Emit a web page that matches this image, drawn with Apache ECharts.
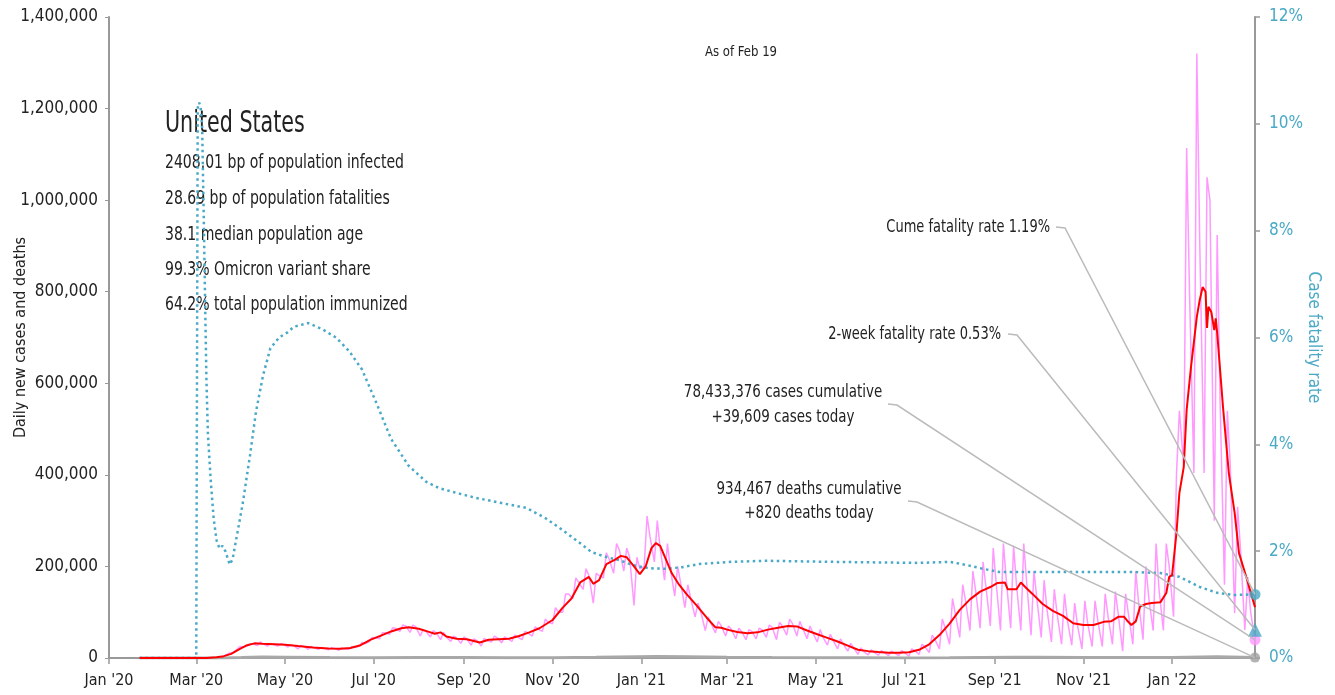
<!DOCTYPE html>
<html>
<head>
<meta charset="utf-8">
<script src="https://cdn.jsdelivr.net/npm/echarts@6/dist/echarts.min.js"></script>
<style>
  html, body { margin: 0; padding: 0; background: #fff; }
  #chart { width: 1335px; height: 695px; }
</style>
</head>
<body>
<div id="chart"></div>
<script>
var FONT = "'Liberation Sans Narrow','DejaVu Sans Condensed','Arial Narrow',sans-serif";
var TEAL = '#4aa9c6', PINK = '#ff99ff', RED = '#ff0000', GRAY = '#a8a8a8', AXIS = '#999999', INK = '#222222';

// ---- data (cases in thousands) ----
var leftTicks = [0, 200000, 400000, 600000, 800000, 1000000, 1200000, 1400000];
var rightTicks = [0, 2, 4, 6, 8, 10, 12];

// daily new cases, one week per entry starting Sun 2020-03-01: Sunday low, Tuesday high, Thursday mid
var pinkSunK = [0, 0.3, 1.5, 8, 19, 26, 27, 26, 26, 24,
  20, 19, 19, 18, 17, 19, 26, 36, 42, 52,
  58, 56, 48, 46, 40, 36, 32, 28, 26, 35,
  33, 36, 40, 48, 58, 75, 100, 130, 150, 120,
  175, 185, 190, 115, 200, 210, 170, 135, 110, 90,
  60, 55, 48, 42, 40, 42, 45, 40, 50, 48,
  42, 35, 28, 20, 15, 8, 7, 6, 5, 5,
  4, 8, 12, 20, 30, 45, 60, 65, 70, 60,
  65, 60, 50, 45, 35, 30, 28, 20, 25, 25,
  30, 15, 30, 40, 60, 60, 90, 420, 404, 404,
  300, 160, 98, 61, 39.609];
var pinkTueK = [0.1, 0.8, 3, 11, 25, 31, 35, 32, 31, 29,
  27, 25, 23, 23, 22, 25, 34, 45, 55, 66,
  72, 72, 62, 60, 56, 48, 46, 42, 43, 48,
  46, 50, 58, 68, 85, 110, 140, 175, 195, 185,
  230, 250, 240, 220, 310, 300, 250, 200, 160, 120,
  90, 80, 70, 65, 62, 65, 72, 78, 85, 80,
  70, 62, 52, 42, 32, 22, 18, 16, 15, 16,
  20, 30, 50, 85, 130, 160, 190, 210, 240, 250,
  245, 250, 190, 170, 150, 140, 120, 125, 125, 140,
  145, 140, 190, 200, 250, 250, 400, 1114, 1320, 1050,
  924, 540, 330, 177];
var pinkThuK = [0, 0.5, 2.5, 11, 24, 31, 31, 30, 30, 27,
  25, 23, 21, 21, 20, 23, 31, 44, 55, 65,
  70, 68, 58, 55, 46, 44, 42, 38, 38, 44,
  43, 46, 55, 63, 78, 100, 140, 165, 180, 180,
  215, 235, 220, 195, 265, 240, 195, 165, 130, 100,
  75, 70, 62, 58, 58, 62, 67, 70, 75, 65,
  55, 45, 38, 30, 22, 14, 13, 12, 11, 12,
  16, 25, 40, 65, 95, 125, 145, 155, 165, 170,
  160, 165, 130, 105, 95, 82, 70, 75, 80, 90,
  95, 95, 120, 130, 150, 200, 540, 793, 908, 1000,
  560, 420, 240, 100];

// 7-day average of new cases
var avgCasesK = [['2020-01-22', 0], ['2020-03-08', 0], ['2020-03-15', 1.5], ['2020-03-20', 4], ['2020-03-25', 9],
  ['2020-03-31', 20], ['2020-04-05', 28], ['2020-04-10', 32], ['2020-04-15', 31], ['2020-04-24', 30],
  ['2020-05-01', 29], ['2020-05-10', 26], ['2020-05-20', 23], ['2020-05-31', 21], ['2020-06-08', 20],
  ['2020-06-15', 22], ['2020-06-22', 28], ['2020-06-29', 40], ['2020-07-06', 49], ['2020-07-13', 58],
  ['2020-07-20', 65], ['2020-07-25', 67], ['2020-08-01', 64], ['2020-08-08', 57], ['2020-08-12', 53],
  ['2020-08-16', 56], ['2020-08-20', 47], ['2020-08-27', 42], ['2020-09-03', 41], ['2020-09-12', 34],
  ['2020-09-18', 40], ['2020-09-25', 41], ['2020-10-02', 42], ['2020-10-09', 48], ['2020-10-16', 56],
  ['2020-10-23', 65], ['2020-11-01', 83], ['2020-11-08', 110], ['2020-11-14', 130], ['2020-11-20', 165],
  ['2020-11-26', 177], ['2020-11-29', 162], ['2020-12-03', 170], ['2020-12-08', 205], ['2020-12-14', 215],
  ['2020-12-18', 223], ['2020-12-22', 220], ['2020-12-27', 200], ['2020-12-31', 183], ['2021-01-04', 200],
  ['2021-01-08', 240], ['2021-01-11', 251], ['2021-01-14', 245], ['2021-01-18', 215], ['2021-01-22', 185],
  ['2021-01-27', 160], ['2021-02-01', 140], ['2021-02-08', 115], ['2021-02-15', 88], ['2021-02-21', 67],
  ['2021-02-25', 66], ['2021-03-01', 62], ['2021-03-08', 57], ['2021-03-15', 54], ['2021-03-22', 56],
  ['2021-03-29', 62], ['2021-04-05', 66], ['2021-04-12', 70], ['2021-04-18', 69], ['2021-04-25', 60],
  ['2021-05-02', 52], ['2021-05-09', 44], ['2021-05-16', 36], ['2021-05-23', 27], ['2021-05-30', 18],
  ['2021-06-06', 15], ['2021-06-13', 13], ['2021-06-20', 11.5], ['2021-06-27', 11.5], ['2021-07-04', 12.5],
  ['2021-07-11', 18], ['2021-07-18', 30], ['2021-07-25', 50], ['2021-08-01', 75], ['2021-08-08', 105],
  ['2021-08-15', 128], ['2021-08-22', 145], ['2021-08-29', 155], ['2021-09-03', 164], ['2021-09-08', 165],
  ['2021-09-10', 150], ['2021-09-16', 150], ['2021-09-19', 165], ['2021-09-22', 155], ['2021-09-27', 140],
  ['2021-10-04', 118], ['2021-10-11', 103], ['2021-10-18', 92], ['2021-10-25', 76], ['2021-11-01', 72],
  ['2021-11-08', 72], ['2021-11-15', 79], ['2021-11-20', 80], ['2021-11-25', 90], ['2021-11-29', 90],
  ['2021-12-01', 82], ['2021-12-04', 72], ['2021-12-07', 80], ['2021-12-10', 112], ['2021-12-14', 118],
  ['2021-12-18', 120], ['2021-12-24', 122], ['2021-12-28', 142], ['2021-12-30', 177], ['2022-01-01', 181],
  ['2022-01-04', 273], ['2022-01-06', 360], ['2022-01-09', 417], ['2022-01-11', 542], ['2022-01-14', 636],
  ['2022-01-18', 745], ['2022-01-20', 782], ['2022-01-22', 810], ['2022-01-24', 800], ['2022-01-25', 721],
  ['2022-01-26', 767], ['2022-01-28', 755], ['2022-01-30', 716], ['2022-01-31', 742], ['2022-02-01', 710],
  ['2022-02-03', 629], ['2022-02-05', 548], ['2022-02-09', 404], ['2022-02-13', 317], ['2022-02-16', 229],
  ['2022-02-21', 177], ['2022-02-25', 133], ['2022-02-27', 111]];

// daily deaths, 7-day average
var deathsK = [['2020-01-22', 0], ['2020-03-01', 0], ['2020-03-20', 0.1], ['2020-04-01', 0.9], ['2020-04-15', 2.2],
  ['2020-05-01', 1.9], ['2020-06-01', 1.0], ['2020-07-01', 0.6], ['2020-08-01', 1.1], ['2020-09-01', 0.9],
  ['2020-10-01', 0.7], ['2020-11-01', 0.8], ['2020-12-01', 1.7], ['2021-01-12', 3.3], ['2021-02-01', 2.9],
  ['2021-03-01', 1.8], ['2021-04-01', 0.9], ['2021-05-01', 0.7], ['2021-06-01', 0.5], ['2021-07-01', 0.25],
  ['2021-08-01', 0.4], ['2021-09-15', 1.9], ['2021-10-01', 1.8], ['2021-11-01', 1.2], ['2021-12-01', 1.0],
  ['2022-01-01', 1.3], ['2022-02-01', 2.5], ['2022-02-27', 0.82]];

// case fatality rate, %
var cfrPct = [['2020-01-22', 0], ['2020-03-01', 0], ['2020-03-02', 10.3], ['2020-03-03', 10.4], ['2020-03-04', 10.3],
  ['2020-03-05', 10.0], ['2020-03-06', 8.5], ['2020-03-07', 6.8], ['2020-03-08', 5.2], ['2020-03-09', 4.2],
  ['2020-03-11', 3.3], ['2020-03-13', 2.6], ['2020-03-15', 2.2], ['2020-03-17', 2.05], ['2020-03-19', 2.1],
  ['2020-03-21', 2.0], ['2020-03-24', 1.75], ['2020-03-26', 1.85], ['2020-03-29', 2.3], ['2020-04-02', 2.9],
  ['2020-04-07', 3.8], ['2020-04-11', 4.6], ['2020-04-16', 5.3], ['2020-04-21', 5.8], ['2020-04-27', 6.0],
  ['2020-05-03', 6.1], ['2020-05-07', 6.2], ['2020-05-17', 6.27], ['2020-05-27', 6.15], ['2020-06-05', 6.0],
  ['2020-06-14', 5.75], ['2020-06-23', 5.4], ['2020-07-02', 4.83], ['2020-07-13', 4.1], ['2020-07-25', 3.6],
  ['2020-08-06', 3.3], ['2020-08-15', 3.18], ['2020-08-27', 3.09], ['2020-09-09', 3.0], ['2020-09-27', 2.9],
  ['2020-10-14', 2.81], ['2020-10-27', 2.62], ['2020-11-05', 2.45], ['2020-11-17', 2.21], ['2020-11-28', 1.98],
  ['2020-12-08', 1.89], ['2020-12-17', 1.83], ['2020-12-26', 1.74], ['2021-01-06', 1.68], ['2021-01-18', 1.67],
  ['2021-01-29', 1.70], ['2021-02-10', 1.76], ['2021-03-04', 1.80], ['2021-03-28', 1.82], ['2021-05-12', 1.80],
  ['2021-07-11', 1.78], ['2021-08-01', 1.80], ['2021-08-13', 1.74], ['2021-08-24', 1.67], ['2021-09-04', 1.61],
  ['2021-10-20', 1.61], ['2021-12-05', 1.61], ['2021-12-24', 1.59], ['2021-12-31', 1.55], ['2022-01-06', 1.52],
  ['2022-01-20', 1.33], ['2022-02-01', 1.22], ['2022-02-12', 1.18], ['2022-02-27', 1.19]];

// latest figures
var cumeCfr = 1.19, twoWeekCfr = 0.53;
var casesCum = 78433376, casesToday = 39609;
var deathsCum = 934467, deathsToday = 820;
var statLines = ['2408.01 bp of population infected', '28.69 bp of population fatalities',
  '38.1 median population age', '99.3% Omicron variant share', '64.2% total population immunized'];

// ---- build ----
function pad(n) { return n < 10 ? '0' + n : '' + n; }
var days = [];
for (var t = Date.UTC(2020, 0, 1); t <= Date.UTC(2022, 1, 27); t += 86400000) {
  var d = new Date(t);
  days.push(d.getUTCFullYear() + '-' + pad(d.getUTCMonth() + 1) + '-' + pad(d.getUTCDate()));
}
var lastDay = days[days.length - 1];
var MON = ['Jan', 'Feb', 'Mar', 'Apr', 'May', 'Jun', 'Jul', 'Aug', 'Sep', 'Oct', 'Nov', 'Dec'];
function isTick(i, v) { return v.slice(8) === '01' && (+v.slice(5, 7)) % 2 === 1; }
function tickLabel(v) { return MON[+v.slice(5, 7) - 1] + " '" + v.slice(2, 4); }
function k(list) { return list.map(function (p) { return [p[0], p[1] * 1000]; }); }

var weekStart = days.indexOf('2020-03-01');
var dailyCases = [['2020-01-22', 0], ['2020-02-23', 0]];
for (var i = 0; i < pinkSunK.length; i++) {
  var b = weekStart + 7 * i;
  dailyCases.push([days[b], pinkSunK[i] * 1000]);
  if (i < pinkTueK.length) {
    dailyCases.push([days[b + 2], pinkTueK[i] * 1000]);
    dailyCases.push([days[b + 4], pinkThuK[i] * 1000]);
  }
}

function fmt(n) { return n.toLocaleString('en-US'); }

var chart = echarts.init(document.getElementById('chart'));
var option = {
  animation: false,
  textStyle: { fontFamily: FONT },
  grid: { left: 109, right: 80, top: 17, bottom: 37, containLabel: false, outerBoundsMode: 'none' },
  xAxis: {
    type: 'category', data: days, boundaryGap: false,
    axisLine: { lineStyle: { color: AXIS, width: 2 } },
    axisTick: { interval: isTick, length: 6, lineStyle: { color: AXIS, width: 1.5 } },
    axisLabel: { interval: isTick, formatter: tickLabel, color: INK, fontSize: 16, fontFamily: FONT, margin: 15 },
    splitLine: { show: false }
  },
  yAxis: [{
    type: 'value', min: leftTicks[0], max: leftTicks[leftTicks.length - 1], interval: leftTicks[1] - leftTicks[0],
    name: 'Daily new cases and deaths', nameLocation: 'middle', nameGap: 80, nameMoveOverlap: false,
    nameTextStyle: { color: INK, fontSize: 16, fontFamily: FONT },
    axisLine: { show: true, lineStyle: { color: AXIS, width: 2 } },
    axisTick: { show: true, length: 4, lineStyle: { color: AXIS } },
    axisLabel: { formatter: function (v) { return fmt(v); }, color: INK, fontSize: 17, fontFamily: FONT, margin: 11 },
    splitLine: { show: false }
  }, {
    type: 'value', position: 'right', min: rightTicks[0], max: rightTicks[rightTicks.length - 1], interval: rightTicks[1] - rightTicks[0],
    name: 'Case fatality rate', nameLocation: 'middle', nameGap: 50, nameRotate: -90, nameMoveOverlap: false,
    nameTextStyle: { color: TEAL, fontSize: 17, fontFamily: FONT },
    axisLine: { show: true, lineStyle: { color: AXIS, width: 2 } },
    axisTick: { show: true, length: 5, lineStyle: { color: AXIS, width: 1.5 } },
    axisLabel: { formatter: '{value}%', color: TEAL, fontSize: 17, fontFamily: FONT, margin: 14 },
    splitLine: { show: false }
  }],
  series: [
    { name: 'Daily cases', type: 'line', data: dailyCases, symbol: 'none', z: 2,
      lineStyle: { color: PINK, width: 1.5 } },
    { name: 'Daily deaths', type: 'line', data: k(deathsK), symbol: 'none', z: 3,
      lineStyle: { color: GRAY, width: 3 } },
    { name: 'Case fatality rate', type: 'line', yAxisIndex: 1, data: cfrPct, symbol: 'none', z: 4,
      lineStyle: { color: TEAL, width: 2.5, type: [2.5, 3.5] } },
    { name: '7-day avg cases', type: 'line', data: k(avgCasesK), symbol: 'none', z: 5,
      lineStyle: { color: RED, width: 2 } },
    { type: 'scatter', data: [[lastDay, deathsToday]], symbol: 'circle', symbolSize: 10, z: 6,
      itemStyle: { color: '#a0a0a0' } },
    { type: 'scatter', data: [[lastDay, casesToday]], symbol: 'circle', symbolSize: 11, z: 6,
      itemStyle: { color: PINK } },
    { type: 'scatter', yAxisIndex: 1, data: [[lastDay, twoWeekCfr]], symbol: 'triangle', symbolSize: 14, z: 7,
      itemStyle: { color: TEAL } },
    { type: 'scatter', yAxisIndex: 1, data: [[lastDay, cumeCfr]], symbol: 'circle', symbolSize: 11, z: 7,
      itemStyle: { color: TEAL } }
  ]
};
chart.setOption(option);

// ---- text and leader lines ----
function txt(x, y, s, size, align, sx) {
  return { type: 'text', x: x, y: y, z: 1, silent: true, scaleX: sx || 1,
    style: { text: s, fill: INK, fontSize: size, fontFamily: FONT, align: align || 'left', verticalAlign: 'middle' } };
}
function leader(sx, sy, pt) {
  return { type: 'polyline', z: 10, silent: true,
    shape: { points: [[sx, sy], [sx + 9, sy + 1], pt] },
    style: { stroke: '#bbbbbb', lineWidth: 1.5, fill: null } };
}
var pCume = chart.convertToPixel({ xAxisIndex: 0, yAxisIndex: 1 }, [lastDay, cumeCfr]);
var pTwo = chart.convertToPixel({ xAxisIndex: 0, yAxisIndex: 1 }, [lastDay, twoWeekCfr]);
var pCases = chart.convertToPixel({ xAxisIndex: 0, yAxisIndex: 0 }, [lastDay, casesToday]);
var pDeaths = chart.convertToPixel({ xAxisIndex: 0, yAxisIndex: 0 }, [lastDay, deathsToday]);

var g = [];
g.push(txt(741, 52, 'As of Feb 19', 14, 'center', 0.93));
g.push(txt(165, 124, 'United States', 31, 'left', 0.74));
var statY = [163, 199, 235, 270, 305];
statLines.forEach(function (s, i) { g.push(txt(165, statY[i], s, 20, 'left', 0.78)); });

var AS = 0.88;
g.push(txt(1050, 228, 'Cume fatality rate ' + cumeCfr.toFixed(2) + '%', 17, 'right', 0.85));
g.push(leader(1056, 227, pCume));
g.push(txt(1001, 335, '2-week fatality rate ' + twoWeekCfr.toFixed(2) + '%', 17, 'right', 0.85));
g.push(leader(1008, 334, pTwo));
g.push(txt(783, 393, fmt(casesCum) + ' cases cumulative', 17, 'center', AS));
g.push(txt(783, 418, '+' + fmt(casesToday) + ' cases today', 17, 'center', AS));
g.push(leader(888, 404, pCases));
g.push(txt(809, 490, fmt(deathsCum) + ' deaths cumulative', 17, 'center', AS));
g.push(txt(809, 514, '+' + fmt(deathsToday) + ' deaths today', 17, 'center', AS));
g.push(leader(908, 501, pDeaths));

chart.setOption({ graphic: g });
</script>
</body>
</html>
